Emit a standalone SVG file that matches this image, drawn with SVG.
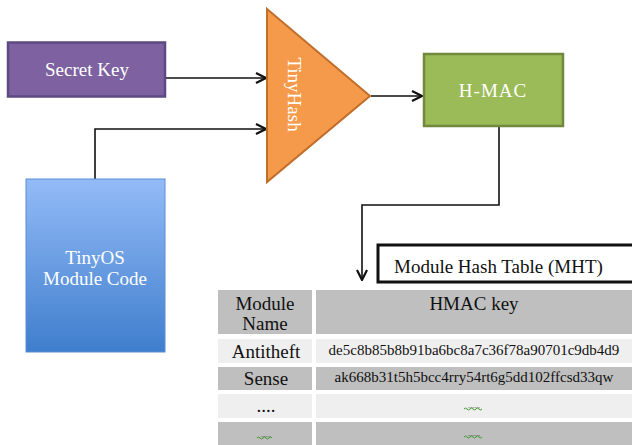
<svg xmlns="http://www.w3.org/2000/svg" width="632" height="445" viewBox="0 0 632 445">
<style>
text{font-family:"Liberation Serif","Times New Roman",serif}
.w{fill:#fff;font-size:19px;text-anchor:middle}
.b{fill:#111;font-size:19px;text-anchor:middle}
.h{fill:#111;font-size:15px;text-anchor:middle}
.c{stroke:#111;stroke-width:1.6;fill:none}
.sq{stroke:#3a9a2a;stroke-width:1;fill:none}
.d{fill:#333;font-size:8px;text-anchor:middle}
</style>
<defs>
<marker id="ah" viewBox="0 0 12 12" refX="11" refY="6" markerWidth="12" markerHeight="12" markerUnits="userSpaceOnUse" orient="auto">
<path d="M1,1 L11,6 L1,11" fill="none" stroke="#111" stroke-width="2.2"/>
</marker>
<linearGradient id="bg" x1="0" y1="0" x2="0" y2="1">
<stop offset="0" stop-color="#93bbf7"/>
<stop offset="1" stop-color="#3f7ecd"/>
</linearGradient>
</defs>
<g id="connectors">
<path class="c" d="M166,78 H266" marker-end="url(#ah)"/>
<path class="c" d="M95,180 V129 H266" marker-end="url(#ah)"/>
<path class="c" d="M371,96 H422" marker-end="url(#ah)"/>
<path class="c" d="M499,127 V205 H362 V280" stroke="#444" marker-end="url(#ah)"/>
</g>
<g id="secret-key">
<rect x="8" y="42.5" width="157" height="54" fill="#7d61a0" stroke="#5e4a80" stroke-width="2.5"/>
<text class="w" x="87" y="76">Secret Key</text>
</g>
<g id="tinyhash">
<polygon points="267,9 370,96 267,182" fill="#f59a4a" stroke="#c06e2a" stroke-width="2"/>
<text class="w" transform="translate(288,94.5) rotate(90)">TinyHash</text>
</g>
<g id="hmac">
<rect x="424" y="54" width="139" height="72" fill="#9bbb58" stroke="#71893d" stroke-width="2.5"/>
<text class="w" x="493" y="97" letter-spacing="1">H-MAC</text>
</g>
<g id="tinyos">
<rect x="26" y="179" width="139" height="173" fill="url(#bg)" stroke="#5a8ed4" stroke-width="1"/>
<text class="w" x="95" y="264">TinyOS</text>
<text class="w" x="95" y="285">Module Code</text>
</g>
<g id="mht-label">
<rect x="378" y="245" width="260" height="37" fill="#fff" stroke="#111" stroke-width="3"/>
<text fill="#111" x="394" y="273" font-size="19px">Module Hash Table (MHT)</text>
</g>
<g id="table">
<rect x="218" y="290" width="94" height="44" fill="#bfbfbf"/>
<rect x="316" y="290" width="316" height="44" fill="#bfbfbf"/>
<rect x="218" y="339" width="94" height="24" fill="#efefef"/>
<rect x="316" y="339" width="316" height="24" fill="#efefef"/>
<rect x="218" y="367" width="94" height="23" fill="#bfbfbf"/>
<rect x="316" y="367" width="316" height="23" fill="#bfbfbf"/>
<rect x="218" y="394" width="94" height="24" fill="#efefef"/>
<rect x="316" y="394" width="316" height="24" fill="#efefef"/>
<rect x="218" y="422" width="94" height="23" fill="#bfbfbf"/>
<rect x="316" y="422" width="316" height="23" fill="#bfbfbf"/>
<text class="b" x="265" y="310">Module</text>
<text class="b" x="265" y="330">Name</text>
<text class="b" x="474" y="310">HMAC key</text>
<text class="b" x="266" y="358">Antitheft</text>
<text class="h" x="474" y="355">de5c8b85b8b91ba6bc8a7c36f78a90701c9db4d9</text>
<text class="b" x="266" y="385">Sense</text>
<text class="h" x="474" y="382">ak668b31t5h5bcc4rry54rt6g5dd102ffcsd33qw</text>
<text class="b" x="266" y="412">....</text>
<text class="d" x="474" y="408">......</text>
<path class="sq" d="M464,409 q1.5,-2 3,0 t3,0 t3,0 t3,0 t3,0 t3,0"/>
<text class="d" x="474" y="436">......</text>
<path class="sq" d="M464,437 q1.5,-2 3,0 t3,0 t3,0 t3,0 t3,0 t3,0"/>
<text class="d" x="266" y="437">.....</text>
<path class="sq" d="M257,438 q1.5,-2 3,0 t3,0 t3,0 t3,0 t3,0"/>
</g>
</svg>
